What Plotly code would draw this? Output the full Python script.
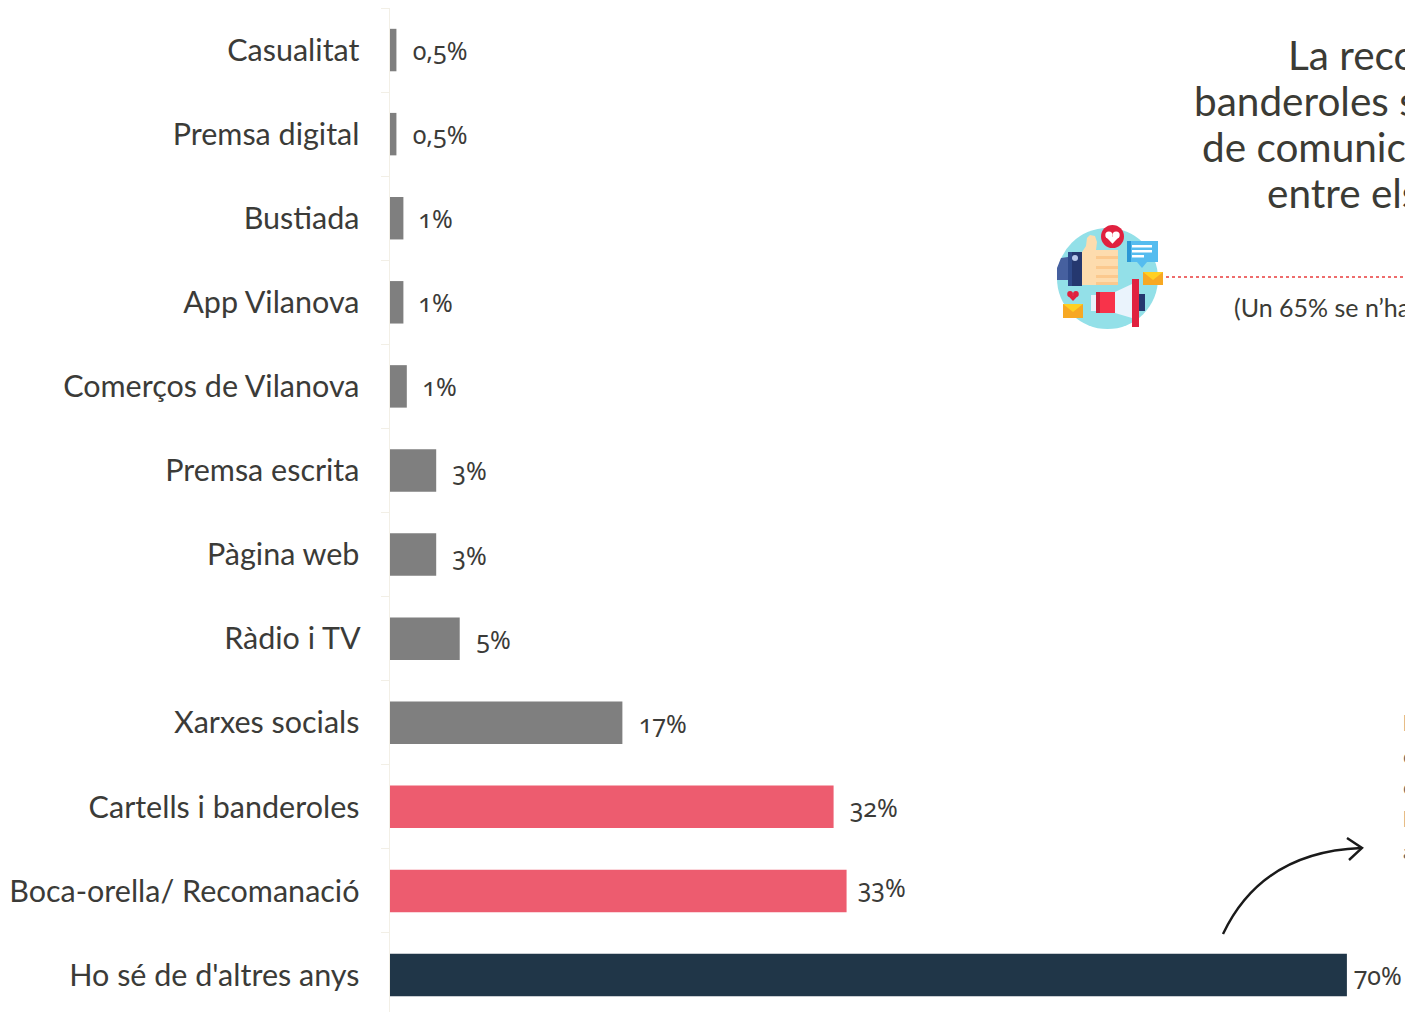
import plotly.graph_objects as go

categories = ["Casualitat", "Premsa digital", "Bustiada", "App Vilanova", "Comerços de Vilanova",
              "Premsa escrita", "Pàgina web", "Ràdio i TV", "Xarxes socials",
              "Cartells i banderoles", "Boca-orella/ Recomanació", "Ho sé de d'altres anys"]
values = [0.47, 0.47, 0.98, 0.98, 1.23, 3.38, 3.38, 5.1, 17.0, 32.45, 33.4, 70.0]
labels = ["0,5%", "0,5%", "1%", "1%", "1%", "3%", "3%", "5%", "17%", "32%", "33%", "70%"]

GREY, RED, NAVY = "#7f7f7f", "#ed5c6f", "#203648"
colors = [GREY] * 9 + [RED, RED, NAVY]
label_xshift = [14, 14, 13, 13, 13, 14, 14, 14, 14, 13, 8, 4]
label_yshift = [0, 0, 0, 0, 0, 0, 0, 0, 0, 0, 4, 0]

L, T, W, H = 390, 8, 1015, 1004
def px(x): return (x - L) / W
def py(y): return 1 - (y - T) / H

def sp(path_pts, fill=None, line=None, lw=0, close=True):
    d = "M " + " L ".join(f"{px(x):.5f},{py(y):.5f}" for x, y in path_pts) + (" Z" if close else "")
    return dict(type="path", xref="paper", yref="paper", path=d, fillcolor=fill,
                line=dict(color=line or "rgba(0,0,0,0)", width=lw), layer="above")
def rect(x0, y0, x1, y1, fill):
    return dict(type="rect", xref="paper", yref="paper", x0=px(x0), x1=px(x1), y0=py(y0), y1=py(y1),
                fillcolor=fill, line=dict(width=0), layer="above")
def circ(x0, y0, x1, y1, fill):
    return dict(type="circle", xref="paper", yref="paper", x0=px(x0), x1=px(x1), y0=py(y0), y1=py(y1),
                fillcolor=fill, line=dict(width=0), layer="above")
def heart(cx, cy, r, fill):
    return [circ(cx - 2 * r, cy - r, cx, cy + r, fill), circ(cx, cy - r, cx + 2 * r, cy + r, fill),
            sp([(cx - 1.9 * r, cy + 0.4 * r), (cx + 1.9 * r, cy + 0.4 * r), (cx, cy + 2.4 * r)], fill)]

shapes = [
    circ(1057, 228, 1158, 329, "#93e0e8"),
    sp([(1068, 257), (1061, 258), (1057, 268), (1057, 280), (1068, 280)], "#46609f"),
    rect(1068, 252, 1082, 286, "#25386f"),
    rect(1068, 252, 1072, 286, "#2f4a8a"),
    circ(1072, 255, 1078, 261, "#b8c8ea"),
    sp([(1082, 252), (1086, 246), (1087, 238), (1090, 235), (1095, 236), (1097, 242), (1096, 250), (1096, 285), (1082, 285)], "#fddcae"),
    rect(1096, 250, 1118, 285, "#fddcae"),
    rect(1096, 256, 1118, 259, "#fbc98e"), rect(1096, 266, 1118, 269, "#fbc98e"), rect(1096, 275, 1118, 278, "#fbc98e"),
    rect(1096, 282, 1118, 285, "#fbc98e"),
    circ(1101, 225, 1124, 248, "#e0213f"),
    *heart(1112.5, 235, 3.6, "#ffffff"),
    rect(1127, 241, 1158, 262, "#55bcef"), rect(1127, 241, 1131, 262, "#2a98d6"),
    sp([(1137, 262), (1147, 262), (1142, 268)], "#55bcef"),
    rect(1132, 245, 1152, 247.5, "#ffffff"), rect(1132, 250, 1152, 252.5, "#ffffff"), rect(1132, 255, 1144, 257.5, "#ffffff"),
    rect(1143, 272, 1163, 285, "#f7a823"), sp([(1143, 272), (1163, 272), (1153, 280)], "#ffd022"),
    *heart(1073, 294, 2.9, "#e0213f"),
    rect(1063, 304, 1083, 318, "#f7a823"), sp([(1063, 304), (1083, 304), (1073, 312)], "#ffd022"),
    rect(1091, 295, 1096, 311, "#e8f2fb"), rect(1096, 292, 1115, 313, "#f8334a"), rect(1096, 292, 1100, 313, "#c8203a"),
    sp([(1115, 292), (1132, 284), (1132, 318), (1115, 313)], "#eaf3fc"),
    rect(1139, 294, 1145, 311, "#25386f"),
    rect(1132, 279, 1139, 327, "#e0213f"),
    # hand-drawn arrow
    dict(type="path", xref="paper", yref="paper", layer="above",
         path=f"M {px(1223)},{py(934)} Q {px(1262)},{py(852)} {px(1361)},{py(848)}",
         line=dict(color="#1a1a1a", width=2.4)),
    sp([(1347, 838), (1362, 848), (1349, 860)], None, "#1a1a1a", 2.4, close=False),
    # dotted connector
    dict(type="line", xref="paper", yref="paper", x0=px(1166), x1=px(1420), y0=py(277), y1=py(277),
         line=dict(color="#ee6c6c", width=2, dash="dot"), layer="above"),
]

fig = go.Figure(go.Bar(x=values, y=categories, orientation="h", marker=dict(color=colors, line_width=0),
                       width=0.505, hoverinfo="skip"))

ann = []
for c, v, t, sx, sy in zip(categories, values, labels, label_xshift, label_yshift):
    ann.append(dict(x=v, y=c, xref="x", yref="y", text=t, showarrow=False, xanchor="left", xshift=sx, yshift=sy,
                    font=dict(family="Noto Sans", size=25, color="#3b3b38")))

def txt(x, y, s, size=40.5, color="#3b3b35", fam="Lato"):
    ann.append(dict(x=px(x), y=py(y), xref="paper", yref="paper", text=s, showarrow=False, xanchor="left",
                    yanchor="middle", font=dict(family=fam, size=size, color=color)))
txt(1286, 55, "La recomanació")
txt(1192, 100, "banderoles són")
txt(1200, 146, "de comunicació")
txt(1265, 192, "entre els")
txt(1232, 307, "(Un 65% se n’ha", size=25)
for y, s in zip([722, 755, 786, 818, 850], ["l", "c", "c", "l", "a"]):
    txt(1401, y, s, size=22, color="#666666")

fig.update_layout(
    width=1405, height=1012, margin=dict(l=L, r=0, t=T, b=0, autoexpand=False),
    paper_bgcolor="white", plot_bgcolor="white", showlegend=False, shapes=shapes, annotations=ann,
    xaxis=dict(range=[0, 74.25], visible=False),
    yaxis=dict(type="category", categoryorder="array", categoryarray=categories, range=[11.44, -0.5],
               tickson="boundaries", ticks="outside", ticklen=8, tickcolor="#f2efe6", tickwidth=1,
               showline=True, linecolor="#f2efe6", linewidth=1, showgrid=False, ticksuffix="   ",
               tickfont=dict(family="Lato", size=30.5, color="#3b3b38")),
)
fig.write_html("out.html", config=dict(displayModeBar=False, responsive=False),
               post_script="document.body.style.margin='0';document.body.style.overflow='hidden';"
                           "document.querySelectorAll('.annotation-text').forEach(e=>{if(/%$/.test(e.textContent)&&!e.textContent.startsWith('(')){e.style.fontFeatureSettings='\"onum\"';}});")
